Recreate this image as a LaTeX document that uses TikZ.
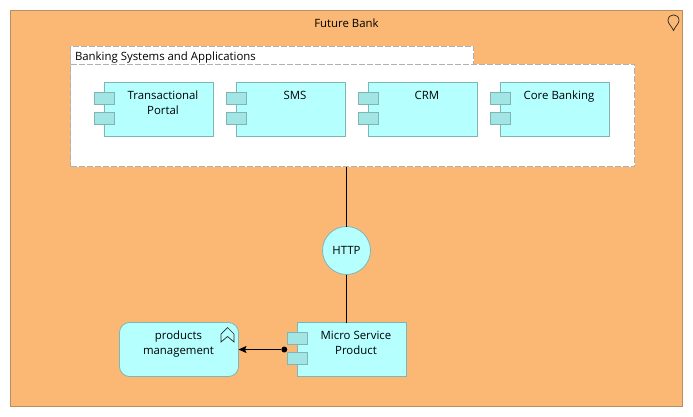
\documentclass[tikz,border=0pt]{standalone}
\usepackage{fontspec}
\setmainfont{Open Sans}
\usetikzlibrary{arrows.meta,calc}
\definecolor{bankfill}{HTML}{FBB875}
\definecolor{bankline}{HTML}{B98F5F}
\definecolor{appfill}{HTML}{B5FFFF}
\definecolor{appline}{HTML}{7FB5B5}
\definecolor{portfill}{HTML}{A2E5E5}
\definecolor{groupline}{HTML}{B0B0B0}
\tikzset{
  x=1pt,y=-1pt,
  every node/.style={inner sep=0pt,outer sep=0pt,font=\fontsize{11.4pt}{15pt}\selectfont,text=black},
  comp/.style={draw=appline,fill=appfill,line width=.8pt,minimum width=109pt,minimum height=54pt,anchor=north west},
  port/.style={draw=appline,fill=portfill,line width=.8pt,minimum width=20pt,minimum height=12pt,anchor=north west},
  label/.style={align=center,anchor=center},
  grp/.style={draw=groupline,fill=white,line width=.9pt,dash pattern=on 6pt off 2pt,anchor=north west},
  wire/.style={draw=black,line width=.8pt},
}
\newcommand{\component}[5]{% name, x, y, text, text centre offset
  \node[comp] (#1) at (#2+.5,#3+.5) {};
  \node[port] (#1p1) at (#2-9.5,#3+10.5) {};
  \node[port] (#1p2) at (#2-9.5,#3+30.5) {};
  \node[label] (#1t) at ($(#1.north)+(4,#5)$) {#4};
}
\begin{document}
\begin{tikzpicture}
\useasboundingbox (0,0) rectangle (693,417);
\node[draw=bankline,fill=bankfill,line width=.8pt,minimum width=672pt,minimum height=396pt,anchor=north west] (bank) at (10.5,10.5) {};
\node[anchor=center] (banktitle) at (346.5,23) {Future Bank};
\draw[line width=.7pt,draw=black!85] (673.5,30.5) .. controls (671.5,26) and (668,23.5) .. (668,20.5) .. controls (668,13) and (679,13) .. (679,20.5) .. controls (679,23.5) and (675.5,26) .. (673.5,30.5) -- cycle;
% group
\node[grp,minimum width=403pt,minimum height=18pt] (tab) at (70.5,46.5) {};
\node[grp,minimum width=564pt,minimum height=102pt] (body) at (70.5,64.5) {};
\node[anchor=west] (tabt) at (75,57.5) {Banking Systems and Applications};
% components
\component{portal}{104}{82}{Transactional\\Portal}{20}
\component{sms}{236}{82}{SMS}{12.5}
\component{crm}{368}{82}{CRM}{12.5}
\component{core}{500}{82}{Core Banking}{14}
\component{micro}{297}{322}{Micro Service\\Product}{20}
% service
\node[circle,draw=appline,fill=appfill,line width=.8pt,minimum size=48pt] (http) at (346.5,250.5) {HTTP};
% function
\node[draw=appline,fill=appfill,line width=.8pt,rounded corners=10pt,minimum width=119pt,minimum height=54pt,anchor=north west] (prod) at (119.5,322.5) {};
\node[label] (prodt) at (178.5,344.5) {products\\management};
\draw[line width=.7pt,draw=black!85] (221,334) -- (221,342) -- (227.5,336.5) -- (234,342) -- (234,334) -- (227.5,327.5) -- cycle;
% connectors
\draw[wire] (http) -- (http |- body.south);
\draw[wire] (http) -- (http |- micro.north);
\node[circle,fill=black,minimum size=6pt] (mdot) at (284.3,349.5) {};
\draw[wire,-{Stealth[length=8pt,width=7pt,inset=1.5pt]}] (mdot) -- (prod);
\end{tikzpicture}
\end{document}
